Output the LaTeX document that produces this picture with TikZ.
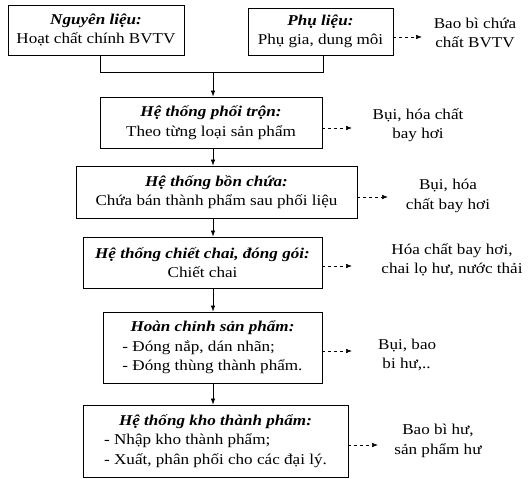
\documentclass[tikz,border=0pt]{standalone}
\usepackage{fontspec}
\setmainfont{Liberation Serif}[FakeStretch=1.14]
\usetikzlibrary{arrows.meta}
\begin{document}
\begin{tikzpicture}[x=1pt,y=-1pt,
  box/.style={draw, line width=0.8pt, rectangle, inner sep=0pt, align=center, font=\fontsize{15}{19.5}\selectfont},
  lbl/.style={align=center, font=\fontsize{15}{19.5}\selectfont, inner sep=0pt},
  flow/.style={-{Latex[length=6pt,width=4.5pt]}, line width=0.7pt},
  waste/.style={dash pattern=on 3pt off 3pt, -{Latex[length=6pt,width=4.5pt]}, line width=0.6pt}]
\useasboundingbox (0,0) rectangle (531,479);
% main boxes
\node[box, minimum width=176pt, minimum height=50pt] (b1) at (96,30) {\textbf{\textit{Nguyên liệu:}}\\Hoạt chất chính BVTV};
\node[box, minimum width=145pt, minimum height=47pt] (b2) at (320.5,31.5) {\textbf{\textit{Phụ liệu:}}\\Phụ gia, dung môi};
\node[box, minimum width=222pt, minimum height=51pt] (b3) at (211,122.5) {\textbf{\textit{Hệ thống phối trộn:}}\\Theo từng loại sản phẩm};
\node[box, minimum width=281pt, minimum height=52pt] (b4) at (216.5,192) {\textbf{\textit{Hệ thống bồn chứa:}}\\Chứa bán thành phẩm sau phối liệu};
\node[box, minimum width=239pt, minimum height=51pt] (b5) at (202.5,262.5) {\textbf{\textit{Hệ thống chiết chai, đóng gói:}}\\Chiết chai};
\node[box, minimum width=219pt, minimum height=71pt] (b6) at (212.5,347.5) {\begin{tabular}{@{}l@{}}\multicolumn{1}{@{}c@{}}{\textbf{\textit{Hoàn chỉnh sản phẩm:}}}\\- Đóng nắp, dán nhãn;\\- Đóng thùng thành phẩm.\end{tabular}};
\node[box, minimum width=265pt, minimum height=72pt] (b7) at (215.5,441) {\begin{tabular}{@{}l@{}}\multicolumn{1}{@{}c@{}}{\textbf{\textit{Hệ thống kho thành phẩm:}}}\\- Nhập kho thành phẩm;\\- Xuất, phân phối cho các đại lý.\end{tabular}};
% waste labels
\node[lbl] (w1) at (475,33) {Bao bì chứa\\chất BVTV};
\node[lbl] (w2) at (418,125) {Bụi, hóa chất\\bay hơi};
\node[lbl] (w3) at (448,196) {Bụi, hóa\\chất bay hơi};
\node[lbl] (w4) at (452,260) {Hóa chất bay hơi,\\chai lọ hư, nước thải};
\node[lbl, align=left, anchor=west] (w5) at (378,355) {Bụi, bao\\\ bi hư,..};
\node[lbl] (w6) at (438,441) {Bao bì hư,\\sản phẩm hư};
% flow connectors
\coordinate (j) at (213,72);
\draw[line width=0.8pt] (b1.south -| 100,0) |- (j);
\draw[line width=0.8pt] (b2.south -| 323,0) |- (j);
\draw[flow] (j) -- (j |- b3.north);
\draw[flow] (b3.south -| j) -- (b4.north -| j);
\draw[flow] (b4.south -| j) -- (b5.north -| j);
\draw[flow] (b5.south -| j) -- (b6.north -| j);
\draw[flow] (b6.south -| j) -- (b7.north -| j);
% waste arrows
\coordinate (e1) at (422,37);
\coordinate (e2) at (352,128);
\coordinate (e3) at (388,197);
\coordinate (e4) at (352,266);
\coordinate (e5) at (352,351);
\coordinate (e6) at (378,445);
\draw[waste] (b2.east |- e1) -- (e1);
\draw[waste] (b3.east |- e2) -- (e2);
\draw[waste] (b4.east |- e3) -- (e3);
\draw[waste] (b5.east |- e4) -- (e4);
\draw[waste] (b6.east |- e5) -- (e5);
\draw[waste] (b7.east |- e6) -- (e6);
\end{tikzpicture}
\end{document}
